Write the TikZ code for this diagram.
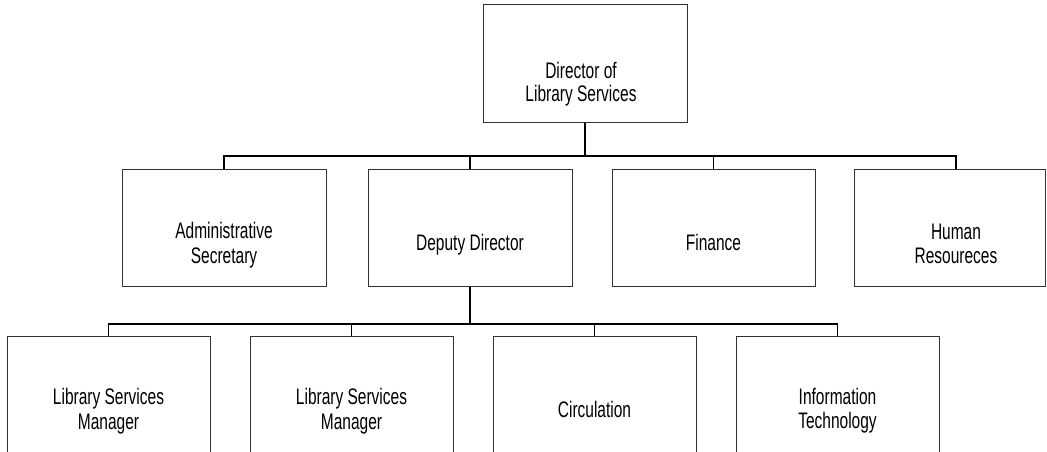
\documentclass[tikz,border=0pt]{standalone}
\usepackage{fontspec}
\usepackage{graphicx}
\setmainfont{Liberation Sans}
\newcommand{\stxt}[2][17]{\scalebox{1}[1.45]{\fontsize{15.5}{#1}\selectfont\begin{tabular}{@{}c@{}}#2\end{tabular}}}
\begin{document}
\begin{tikzpicture}[x=1pt,y=-1pt,
  box/.style={draw=black!80, line width=1pt, inner sep=0pt, fill=white},
  lbl/.style={inner sep=0pt},
  conn/.style={draw=black, line width=1.5pt}]
\useasboundingbox (0,0) rectangle (1047,451);
\clip (0,0) rectangle (1047,451);
% top
\node[box, minimum width=204, minimum height=117.5] (dir) at (585,63.25) {};
\node[lbl] (dirt) at (581,85) {\stxt[14]{Director of\\Library Services}};
% row 2
\node[box, minimum width=204, minimum height=117.5] (admin) at (224,227.75) {};
\node[box, minimum width=204, minimum height=117.5] (deputy) at (470,227.75) {};
\node[box, minimum width=203, minimum height=117.5] (finance) at (713.5,227.75) {};
\node[box, minimum width=191, minimum height=117.5] (hr) at (949.5,227.75) {};
\node[lbl] (admint) at (224,246) {\stxt{Administrative\\Secretary}};
\node[lbl] (deputyt) at (470,246) {\stxt{Deputy Director}};
\node[lbl] (financet) at (713.5,246) {\stxt{Finance}};
\node[lbl] (hrt) at (956,246.5) {\stxt{Human\\Resoureces}};
% row 3
\node[box, minimum width=203, minimum height=144] (lsm1) at (108.5,408) {};
\node[box, minimum width=203, minimum height=144] (lsm2) at (351.5,408) {};
\node[box, minimum width=203, minimum height=144] (circ) at (594.5,408) {};
\node[box, minimum width=203, minimum height=144] (it) at (837.5,408) {};
\node[lbl] (lsm1t) at (108.5,412) {\stxt{Library Services\\Manager}};
\node[lbl] (lsm2t) at (351.5,412) {\stxt{Library Services\\Manager}};
\node[lbl] (circt) at (594.5,412.5) {\stxt{Circulation}};
\node[lbl] (itt) at (837.5,411.5) {\stxt{Information\\Technology}};
% connectors
\coordinate (bus1) at (585,156);
\coordinate (hrin) at (956,169);
\draw[conn] (dir.south) -- (bus1);
\draw[conn] (admin.north) |- (bus1) -| (hrin);
\draw[conn] (deputy.north) -- (deputy.north |- bus1);
\draw[conn] (finance.north) -- (finance.north |- bus1);
\coordinate (bus2) at (470,324);
\draw[conn] (deputy.south) -- (bus2);
\draw[conn] (lsm1.north) |- (bus2) -| (it.north);
\draw[conn] (lsm2.north) -- (lsm2.north |- bus2);
\draw[conn] (circ.north) -- (circ.north |- bus2);
\end{tikzpicture}
\end{document}
